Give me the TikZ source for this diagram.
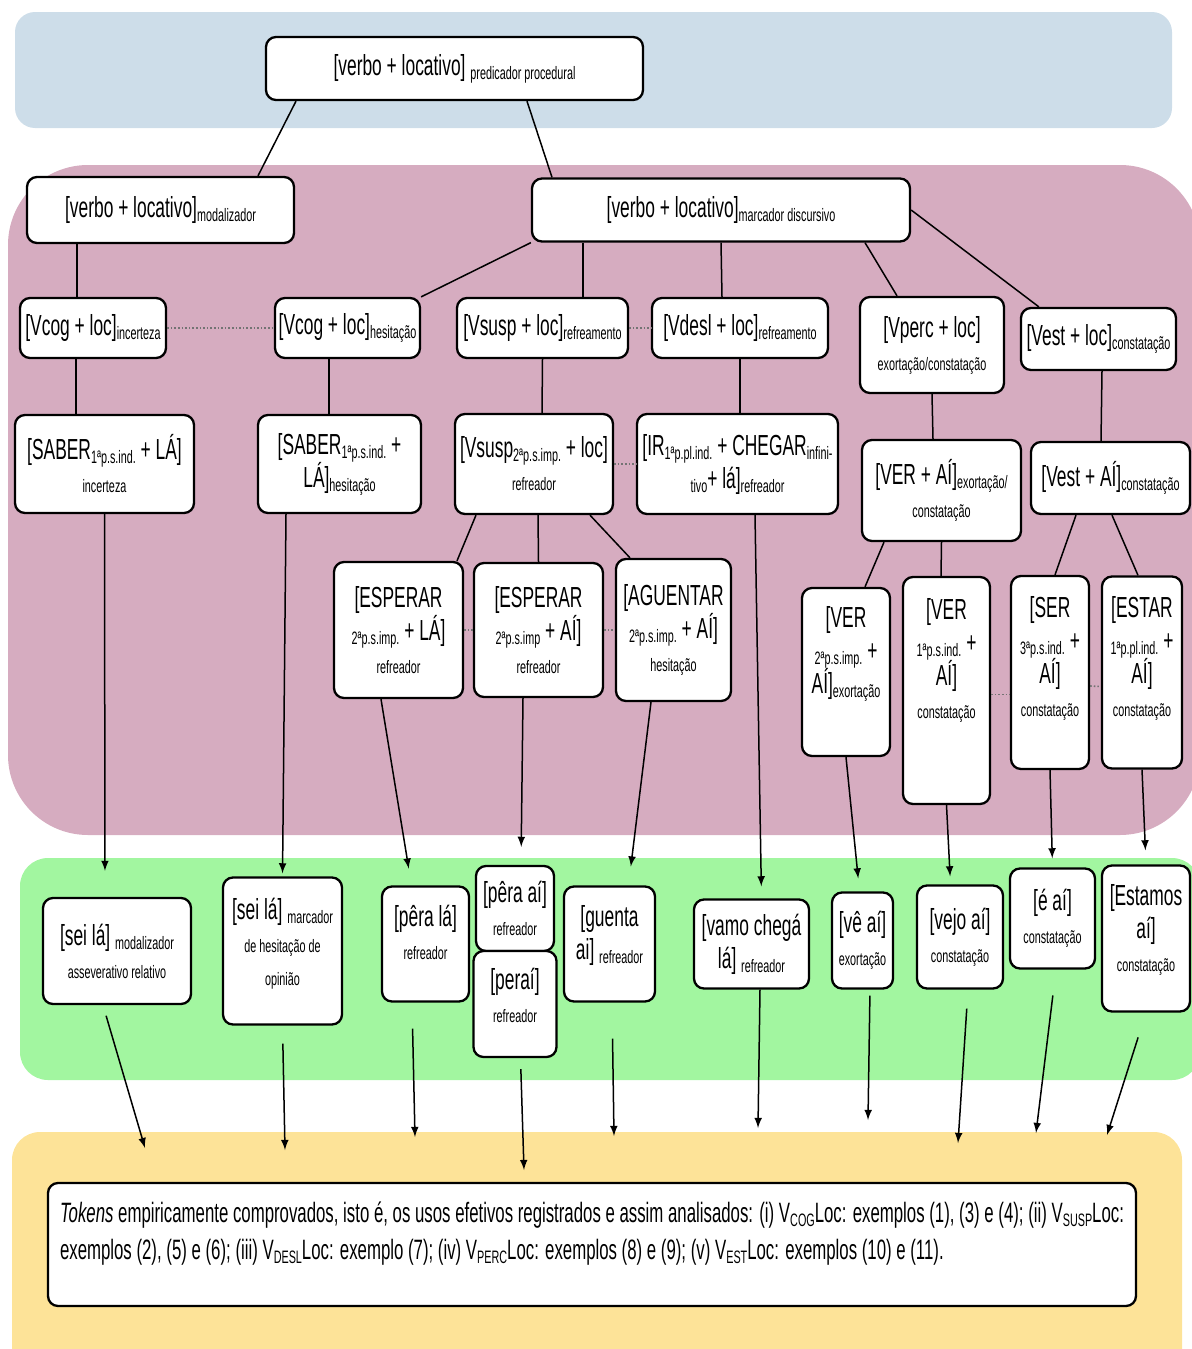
\documentclass[tikz,border=0pt]{standalone}
\usepackage{fontspec}
\setmainfont[FakeStretch=0.6]{Liberation Sans}
\usepackage{tikz}
\usetikzlibrary{positioning}

\definecolor{fundoazul}{RGB}{205,221,233}
\definecolor{fundorosa}{RGB}{214,172,192}
\definecolor{fundoverde}{RGB}{162,246,160}
\definecolor{fundoamarelo}{RGB}{253,227,152}

\newcommand{\grande}{\fontsize{14.5}{16.5}\selectfont}
\newcommand{\textotok}{\fontsize{14}{18.5}\selectfont}
\newcommand{\sbs}[1]{\raisebox{-2pt}{\fontsize{9}{10}\selectfont #1}}
\newcommand{\sbt}[1]{\raisebox{-2pt}{\fontsize{9}{10}\selectfont #1}}
\newcommand{\peq}[1]{{\fontsize{9}{10}\selectfont #1}}
\newcommand{\vazio}[1]{\\[#1]\mbox{}}

\begin{document}
\begin{tikzpicture}[x=0.5pt,y=-0.5pt,node distance=20pt,on grid,>=latex]
    \tikzset{caixa/.style={draw,rectangle,rounded corners=5pt,line width=1.15pt,fill=white,align=center,inner sep=1pt,font=\grande},
      wh/.style 2 args={minimum width=0.5pt*#1,minimum height=0.5pt*#2},
      liga/.style={line width=0.75pt},
      seta/.style={->,line width=0.75pt},
      pont/.style={densely dotted,line width=0.8pt,draw=black!55}}
    \useasboundingbox (0,0) rectangle (1192,1349);
    % faixas de fundo
    \fill[fundoazul,rounded corners=10pt] (15,12) rectangle (1172,128);
    \fill[fundorosa,rounded corners=40pt] (8,165) rectangle (1200,835);
    \fill[fundoverde,rounded corners=14pt] (20,858) rectangle (1200,1080);
    \fill[fundoamarelo,rounded corners=14pt] (12,1132) rectangle (1182,1380);

    \node[caixa,wh={377}{63}] (top) at (454.5,68.5) {[verbo + locativo] \sbs{predicador procedural}};
    \node[caixa,wh={267}{66}] (mod) at (160.5,210) {[verbo + locativo]\sbs{modalizador}};
    \node[caixa,wh={378}{63}] (md) [right=280.25pt of mod] {[verbo + locativo]\sbs{marcador discursivo}};

    \node[caixa,wh={146}{60}] (vcogInc) at (93,328) {[Vcog + loc]\sbs{incerteza}};
    \node[caixa,wh={145}{60}] (vcogHes) [right=127.25pt of vcogInc] {[Vcog + loc]\sbs{hesitação}};
    \node[caixa,wh={171}{60}] (vsusp) [right=97.5pt of vcogHes] {[Vsusp + loc]\sbs{refreamento}};
    \node[caixa,wh={176}{60}] (vdesl) [right=98.75pt of vsusp] {[Vdesl + loc]\sbs{refreamento}};
    \node[caixa,wh={144}{96}] (vperc) [below right=8.5pt and 96pt of vdesl] {[Vperc + loc]\\ \peq{exortação/constatação}};
    \node[caixa,wh={155}{62}] (vest) [above right=3pt and 83.25pt of vperc] {[Vest + loc]\sbs{constatação}};

    \node[caixa,wh={179}{98}] (saberInc) at (104.5,464) {[SABER\sbs{1ªp.s.ind.} + LÁ]\\ \peq{incerteza}};
    \node[caixa,wh={163}{98}] (saberHes) [right=117.5pt of saberInc] {[SABER\sbs{1ªp.s.ind.} +\\ LÁ]\sbs{hesitação}};
    \node[caixa,wh={158}{100}] (vsusp2) [right=97.25pt of saberHes] {[Vsusp\sbs{2ªp.s.imp.} + loc]\\ \peq{refreador}};
    \node[caixa,wh={201}{100}] (ir) [right=101.75pt of vsusp2] {[IR\sbs{1ªp.pl.ind.} + CHEGAR\sbs{infini-}\\ \sbs{tivo}+ lá]\sbs{refreador}};
    \node[caixa,wh={159}{101}] (verAi) [below right=13.25pt and 102pt of ir] {[VER + AÍ]\sbs{exortação/}\\ \peq{constatação}};
    \node[caixa,wh={159}{72}] (vestAi) [above right=6.25pt and 84.5pt of verAi] {[Vest + AÍ]\sbs{constatação}};

    \node[caixa,wh={129}{136}] (esperarLa) at (398.5,630) {[ESPERAR\\ \sbs{2ªp.s.imp.} + LÁ]\\ \peq{refreador}};
    \node[caixa,wh={129}{134}] (esperarAi) [right=70pt of esperarLa] {[ESPERAR\\ \sbs{2ªp.s.imp} + AÍ]\\ \peq{refreador}};
    \node[caixa,wh={115}{142}] (aguentar) [right=67.5pt of esperarAi] {[AGUENTAR\\ \sbs{2ªp.s.imp.} + AÍ]\\ \peq{hesitação}};
    \node[caixa,wh={88}{168}] (verImp) at (846,672) {[VER\\ \sbs{2ªp.s.imp.} +\\ AÍ]\sbs{exortação}\vazio{5.5pt}};
    \node[caixa,wh={87}{227}] (verInd) [below right=9.25pt and 50.25pt of verImp] {[VER\\ \sbs{1ªp.s.ind.} +\\ AÍ]\\ \peq{constatação}\vazio{15.5pt}};
    \node[caixa,wh={78}{193}] (ser) [above right=9pt and 51.75pt of verInd] {[SER\\ \sbs{3ªp.s.ind.} +\\ AÍ]\\ \peq{constatação}\vazio{0pt}};
    \node[caixa,wh={80}{192}] (estar) [right=46pt of ser] {[ESTAR\\ \sbs{1ªp.pl.ind.} +\\ AÍ]\\ \peq{constatação}\vazio{0pt}};

    \node[caixa,wh={148}{106}] (seiMod) at (117,951) {[sei lá] \sbs{modalizador}\\ \peq{asseverativo relativo}};
    \node[caixa,wh={119}{147}] (seiHes) [right=82.75pt of seiMod] {[sei lá] \sbs{marcador}\\ \peq{de hesitação de}\\ \peq{opinião}\vazio{-7pt}};
    \node[caixa,wh={87}{115}] (peraLa) [above right=3.5pt and 71.5pt of seiHes] {[pêra lá]\\ \peq{refreador}\vazio{-5pt}};
    \node[caixa,wh={78}{85}] (peraAi) at (515,908.5) {[pêra aí]\\ \peq{refreador}};
    \node[caixa,wh={83}{106}] (perai) [below=47.75pt of peraAi] {[peraí]\\ \peq{refreador}\vazio{-7.5pt}};
    \node[caixa,wh={91}{115}] (guenta) [right=92pt of peraLa] {[guenta\\ ai] \sbs{refreador}\vazio{-5pt}};
    \node[caixa,wh={115}{89}] (vamo) [right=71pt of guenta] {[vamo chegá\\ lá] \sbs{refreador}};
    \node[caixa,wh={61}{96}] (veAi) [above right=1.75pt and 55.5pt of vamo] {[vê aí]\\ \peq{exortação}};
    \node[caixa,wh={86}{103}] (vejo) [above right=1.75pt and 48.75pt of veAi] {[vejo aí]\\ \peq{constatação}};
    \node[caixa,wh={85}{100}] (eAi) [above right=9.25pt and 46.25pt of vejo] {[é aí]\\ \peq{constatação}};
    \node[caixa,wh={88}{146}] (estamos) [below right=10pt and 46.75pt of eAi] {[Estamos\\ aí]\\ \peq{constatação}\vazio{-5.5pt}};

    \node[caixa,font=\textotok,align=left,wh={1088}{123}] (tokens) at (592,1244.5) {\textit{Tokens} empiricamente comprovados, isto é, os usos efetivos registrados e assim analisados: (i) V\sbt{COG}Loc: exemplos (1), (3) e (4); (ii) V\sbt{SUSP}Loc:\\ exemplos (2), (5) e (6); (iii) V\sbt{DESL}Loc: exemplo (7); (iv) V\sbt{PERC}Loc: exemplos (8) e (9); (v) V\sbt{EST}Loc: exemplos (10) e (11).\vazio{-5pt}};

    \coordinate (t1) at (145,1148);
    \coordinate (t2) at (285,1150);
    \coordinate (t3) at (415,1137);
    \coordinate (t4) at (524,1170);
    \coordinate (t5) at (614,1136);
    \coordinate (t6) at (758,1128);
    \coordinate (t7) at (868,1120);
    \coordinate (t8) at (958,1143);
    \coordinate (t9) at (1036,1133);
    \coordinate (t10) at (1107,1135);

    \path[liga]
    ([xshift=-79.25pt]top.south) edge ([xshift=48.75pt]mod.north)
    ([xshift=36.25pt]top.south) edge ([xshift=-84.5pt]md.north)
    ([xshift=-41.75pt]mod.south) edge ([xshift=-8pt]vcogInc.north)
    (md.south west) edge (vcogHes.north east)
    ([xshift=-69pt]md.south) edge ([xshift=20.25pt]vsusp.north)
    (md.south) edge ([xshift=-9pt]vdesl.north)
    ([xshift=72pt]md.south) edge ([xshift=-17.5pt]vperc.north)
    (md.east) edge ([xshift=9.5pt]vest.north west)
    ([xshift=-8.5pt]vcogInc.south) edge ([xshift=-14.25pt]saberInc.north)
    ([xshift=-9.25pt]vcogHes.south) edge ([xshift=-5.25pt]saberHes.north)
    (vsusp.south) edge ([xshift=4pt]vsusp2.north)
    (vdesl.south) edge ([xshift=1.25pt]ir.north)
    (vperc.south) edge ([xshift=-4.25pt]verAi.north)
    ([xshift=1.75pt]vest.south) edge ([xshift=-4.75pt]vestAi.north)
    ([xshift=-29pt]vsusp2.south) edge ([xshift=29.25pt]esperarLa.north)
    ([xshift=2pt]vsusp2.south) edge (esperarAi.north)
    ([xshift=28pt]vsusp2.south) edge ([xshift=-21.75pt]aguentar.north)
    ([xshift=-28.75pt]verAi.south) edge ([xshift=9.5pt]verImp.north)
    (verAi.south) edge ([xshift=-2.75pt]verInd.north)
    ([xshift=-17.25pt]vestAi.south) edge ([xshift=2.5pt]ser.north)
    ([xshift=0.75pt]vestAi.south) edge ([xshift=-2pt]estar.north)
    ;

    \path[pont]
    (vcogInc) edge (vcogHes)
    (vsusp) edge (vdesl)
    (vsusp2) edge (ir)
    (esperarLa) edge (esperarAi)
    (esperarAi) edge (aguentar)
    ([yshift=-2pt]verInd.east) edge ([yshift=-11pt]ser.west)
    ([yshift=-6.75pt]ser.east) edge ([yshift=-7pt]estar.west)
    ;

    \path[seta]
    (saberInc.south) edge [shorten >=13pt] ([xshift=-6pt]seiMod.north)
    ([xshift=-26.75pt]saberHes.south) edge [shorten >=1.5pt] (seiHes.north)
    ([xshift=-8.75pt]esperarLa.south) edge [shorten >=8.5pt] ([xshift=-7pt]peraLa.north)
    ([xshift=-7.75pt]esperarAi.south) edge [shorten >=9pt] ([xshift=3pt]peraAi.north)
    ([xshift=-11.25pt]aguentar.south) edge [shorten >=9.5pt] ([xshift=9.5pt]guenta.north)
    ([xshift=8.75pt]ir.south) edge [shorten >=6pt] ([xshift=5pt]vamo.north)
    (verImp.south) edge [shorten >=6.5pt] ([xshift=-1.5pt]veAi.north)
    (verInd.south) edge [shorten >=4pt] ([xshift=-4.75pt]vejo.north)
    (ser.south) edge [shorten >=4.5pt] (eAi.north)
    (estar.south) edge [shorten >=7pt] (estamos.north)

    ([xshift=-7pt]seiMod.south) edge [shorten <=5.5pt] (t1)
    (seiHes.south) edge [shorten <=9pt] (t2)
    ([xshift=-6.75pt]peraLa.south) edge [shorten <=13pt] (t3)
    ([xshift=2.75pt]perai.south) edge [shorten <=5.5pt] (t4)
    ([xshift=1.25pt]guenta.south) edge [shorten <=18pt] (t5)
    ([xshift=4.25pt]vamo.south) edge [] (t6)
    ([xshift=3.75pt]veAi.south) edge [shorten <=3pt] (t7)
    ([xshift=4pt]vejo.south) edge [shorten <=9.5pt] (t8)
    ([xshift=1.75pt]eAi.south) edge [shorten <=13pt] (t9)
    (estamos.south) edge [shorten <=13pt] (t10)
    ;
  \end{tikzpicture}
\end{document}
